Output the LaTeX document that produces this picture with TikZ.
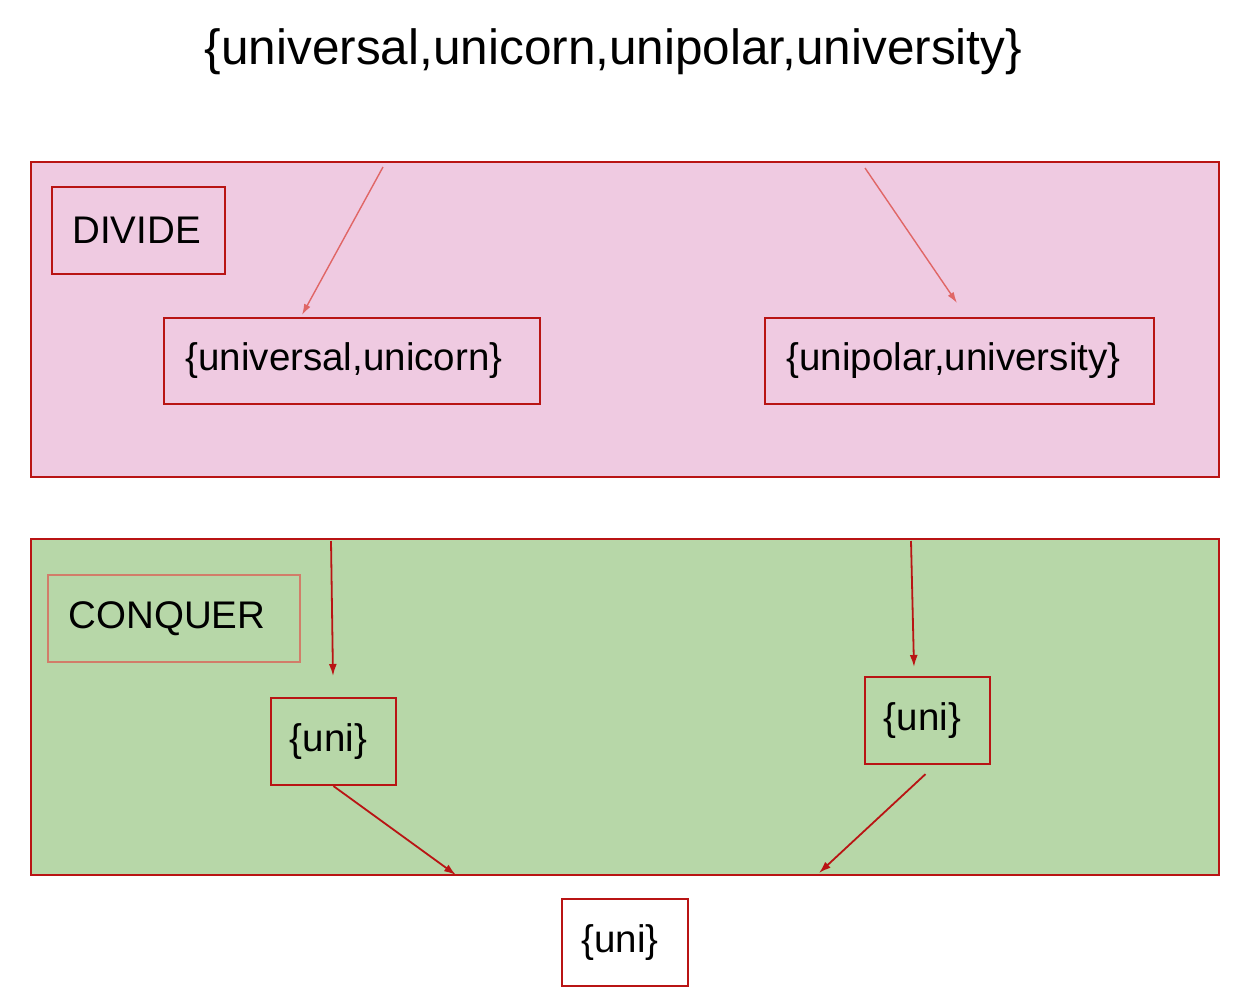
\documentclass[tikz,border=0pt]{standalone}
\usepackage{fontspec}
\setmainfont{Liberation Sans}
\usepackage{tikz}
\usetikzlibrary{arrows.meta,positioning,calc}
\definecolor{boxred}{RGB}{185,20,20}
\definecolor{lightred}{RGB}{224,102,102}
\definecolor{salmon}{RGB}{210,125,105}
\definecolor{pinkfill}{RGB}{239,202,225}
\definecolor{greenfill}{RGB}{183,215,168}
\tikzset{
  setbox/.style={draw=boxred,line width=2.2pt,inner sep=0pt,font=\fontsize{38.5}{46}\selectfont},
  arr/.style={-{Latex[length=12pt,width=8pt]},line width=1.8pt,draw=boxred},
  lightarr/.style={-{Latex[length=11pt,width=7pt]},line width=1.4pt,draw=lightred}
}
\begin{document}
\begin{tikzpicture}[x=1pt,y=-1pt]
\useasboundingbox (0,0) rectangle (1245,1004);
% the two stages
\draw[boxred,line width=2.2pt,fill=pinkfill] (31,162) rectangle (1219,477);
\draw[boxred,line width=2.2pt,fill=greenfill] (31,539) rectangle (1219,875);
% whole set
\node[font=\fontsize{49.5}{58}\selectfont] (all) at (613.5,52) {\{universal,unicorn,unipolar,university\}};
% divide
\node[setbox,minimum width=173pt,minimum height=87pt] (divide) at (138.5,230.5) {\hspace*{-4pt}DIVIDE};
\node[setbox,minimum width=376pt,minimum height=86pt] (left) at (352,361) {\hspace*{-16pt}\raisebox{-2pt}{\{universal,unicorn\}}};
\node[setbox,minimum width=389pt,minimum height=86pt] (right) at (959.5,361) {\hspace*{-12pt}\raisebox{-2pt}{\{unipolar,university\}}};
\coordinate (dl) at (383,167);
\coordinate (dle) at (302,315);
\coordinate (dr) at (865,168);
\coordinate (dre) at (957,303);
\draw[lightarr] (dl) -- (dle);
\draw[lightarr] (dr) -- (dre);
% conquer
\node[setbox,draw=salmon,minimum width=252pt,minimum height=87pt] (conquer) at (174,618.5) {\hspace*{-14pt}CONQUER};
\node[setbox,minimum width=125pt,minimum height=87pt] (unil) at (333.5,741.5) {\hspace*{-10pt}\{uni\}};
\node[setbox,minimum width=125pt,minimum height=87pt] (unir) at (927.5,720.5) {\hspace*{-10pt}\{uni\}};
\coordinate (cl) at (331,541);
\coordinate (cle) at (333,676);
\coordinate (cr) at (911,541);
\coordinate (cre) at (914,667);
\draw[arr] (cl) -- (cle);
\draw[arr] (cr) -- (cre);
% merge
\coordinate (ml) at (456,875);
\coordinate (mr) at (819,873);
\draw[arr] (unil.south) -- (ml);
\draw[arr] ($(unir.south)+(-2,9)$) -- (mr);
\node[setbox,minimum width=126pt,minimum height=87pt] (result) at (625,942.5) {\hspace*{-10pt}\{uni\}};
\end{tikzpicture}
\end{document}
